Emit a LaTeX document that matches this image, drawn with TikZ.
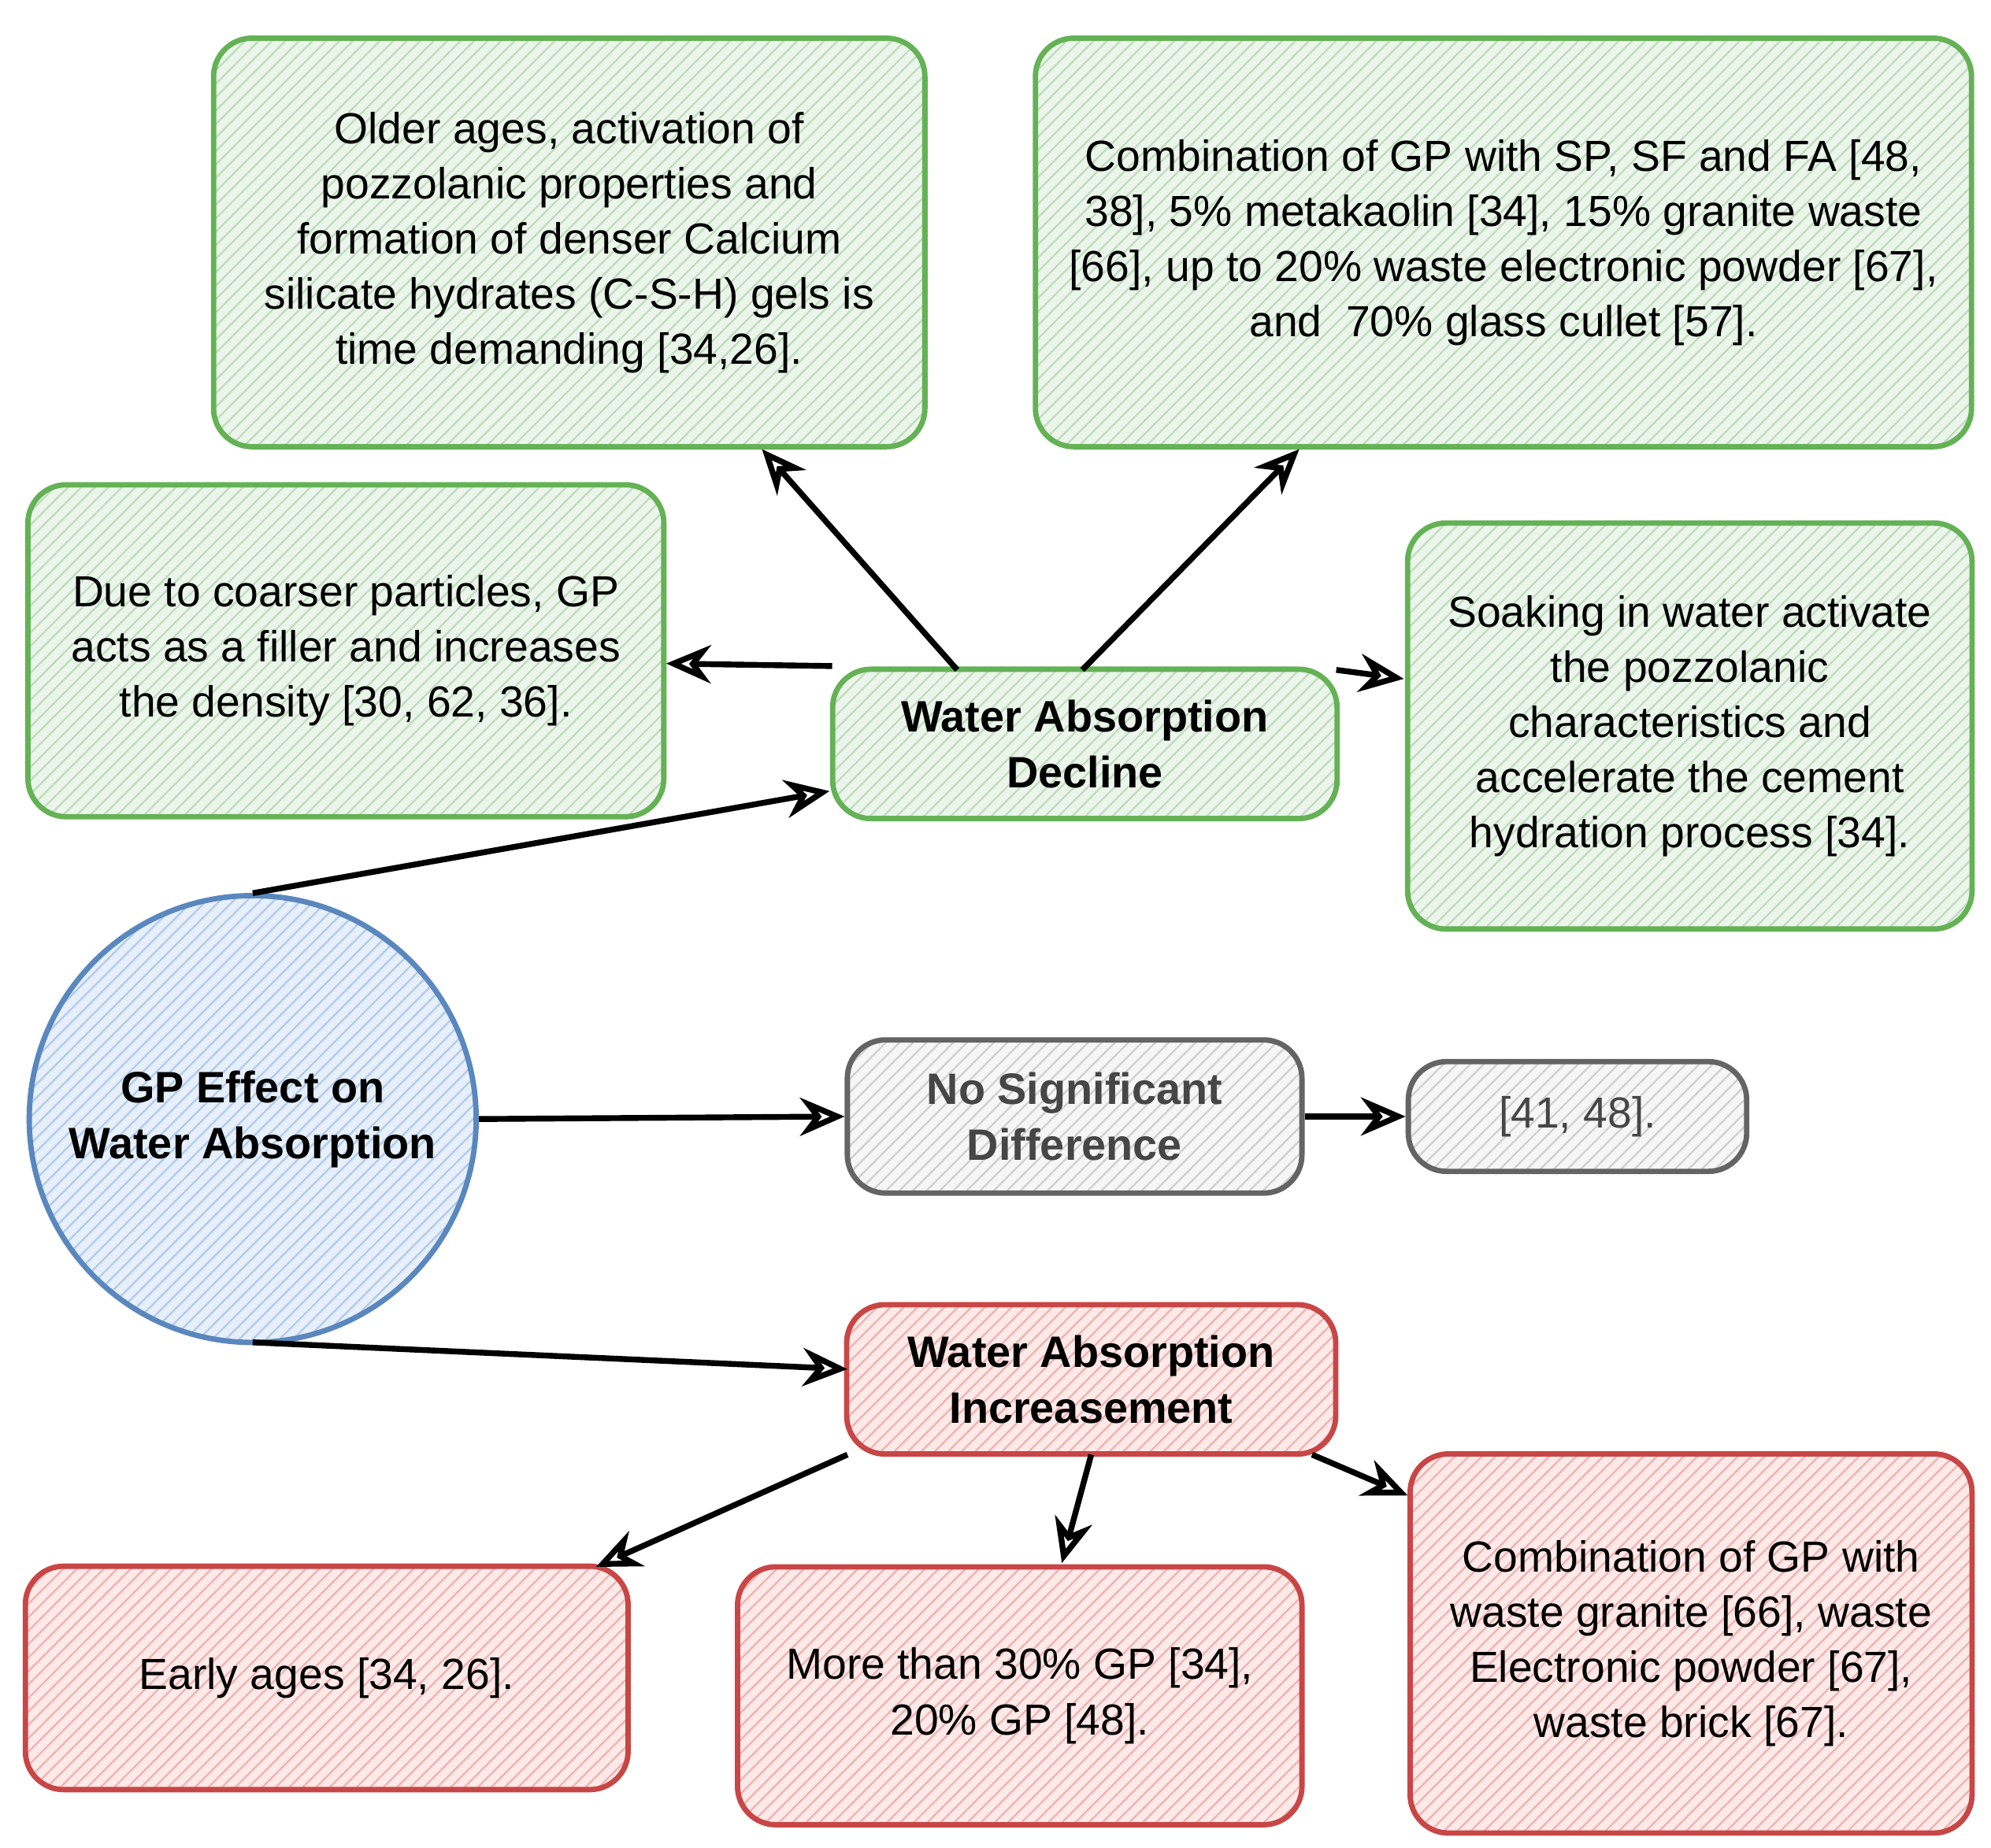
\documentclass[tikz,border=0pt]{standalone}
\usepackage{fontspec}
\setmainfont{Liberation Sans}
\usetikzlibrary{patterns,arrows.meta,shapes.geometric}
\definecolor{gs}{RGB}{100,178,85}
\definecolor{gf}{RGB}{213,232,212}
\definecolor{rs}{RGB}{200,70,70}
\definecolor{rf}{RGB}{248,206,204}
\definecolor{ks}{RGB}{100,100,100}
\definecolor{kf}{RGB}{235,235,235}
\definecolor{bs}{RGB}{90,135,190}
\definecolor{bf}{RGB}{200,220,245}
\tikzset{
 base/.style={rounded corners=0.3cm,line width=1.2pt,align=center,
   font=\fontsize{9.7}{12.3}\selectfont,inner sep=0pt},
 hd/.style={font=\bfseries\fontsize{9.8}{12.5}\selectfont},
 gbox/.style={base,draw=gs,preaction={fill=gf!45},preaction={pattern=north east lines,pattern color=gf!80!gs}},
 rbox/.style={base,draw=rs,preaction={fill=rf!45},preaction={pattern=north east lines,pattern color=rf!80!rs}},
 kbox/.style={base,draw=ks,preaction={fill=kf!45},preaction={pattern=north east lines,pattern color=kf!80!ks},text=ks!70!black},
 bcirc/.style={circle,line width=1.2pt,draw=bs,preaction={fill=bf!45},preaction={pattern=north east lines,pattern color=bf!80!bs},align=center,hd},
 arr/.style={line width=1.3pt,-{Stealth[open,length=3.5mm,width=3mm]}}
}
\begin{document}
\begin{tikzpicture}[x=0.01cm,y=-0.01cm]
\useasboundingbox (0,0) rectangle (1560,1448);
\node[gbox,minimum width=5.57cm,minimum height=3.2cm] (A) at (446,190) {Older ages, activation of\\pozzolanic properties and\\formation of denser Calcium\\silicate hydrates (C-S-H) gels is\\time demanding [34,26].};
\node[gbox,minimum width=7.33cm,minimum height=3.2cm] (B) at (1178,190) {Combination of GP with SP, SF and FA [48,\\38], 5\% metakaolin [34], 15\% granite waste\\{}[66], up to 20\% waste electronic powder [67],\\and\ \ 70\% glass cullet [57].};
\node[gbox,minimum width=4.98cm,minimum height=2.6cm] (C) at (271,510) {Due to coarser particles, GP\\acts as a filler and increases\\the density [30, 62, 36].};
\node[gbox,hd,minimum width=3.95cm,minimum height=1.17cm] (W) at (850,583) {Water Absorption\\Decline};
\node[gbox,minimum width=4.42cm,minimum height=3.18cm] (D) at (1324,569) {Soaking in water activate\\the pozzolanic\\characteristics and\\accelerate the cement\\hydration process [34].};
\node[bcirc,minimum size=3.5cm] (G) at (198,877) {GP Effect on\\Water Absorption};
\node[kbox,hd,minimum width=3.56cm,minimum height=1.2cm] (N) at (842,875) {No Significant\\Difference};
\node[kbox,minimum width=2.65cm,minimum height=0.86cm] (R) at (1236,875) {[41, 48].};
\node[rbox,hd,minimum width=3.83cm,minimum height=1.17cm] (I) at (855,1081) {Water Absorption\\Increasement};
\node[rbox,minimum width=4.72cm,minimum height=1.75cm] (E) at (256,1315) {Early ages [34, 26].};
\node[rbox,minimum width=4.42cm,minimum height=2.02cm] (M) at (799,1329) {More than 30\% GP [34],\\20\% GP [48].};
\node[rbox,minimum width=4.4cm,minimum height=2.97cm] (F) at (1325,1288) {Combination of GP with\\waste granite [66], waste\\Electronic powder [67],\\waste brick [67].};
\coordinate (w1) at (750,525); \coordinate (a1) at (597,352);
\coordinate (w2) at (848,525); \coordinate (b1) at (1018,352);
\coordinate (w3) at (652,522); \coordinate (c1) at (522,520);
\coordinate (w4) at (1047,525); \coordinate (d1) at (1100,532);
\coordinate (g1) at (198,700); \coordinate (w5) at (650,620);
\coordinate (g2) at (198,1052); \coordinate (i1) at (664,1073);
\coordinate (i2) at (664,1140); \coordinate (e1) at (467,1228);
\coordinate (i3) at (855,1140); \coordinate (m1) at (832,1225);
\coordinate (i4) at (1028,1140); \coordinate (f1) at (1103,1172);
\draw[arr] (w1) -- (a1);
\draw[arr] (w2) -- (b1);
\draw[arr] (w3) -- (c1);
\draw[arr] (w4) -- (d1);
\draw[arr] (g1) -- (w5);
\draw[arr] (G.east) -- (N.west);
\draw[arr] (N.east) -- (R.west);
\draw[arr] (g2) -- (i1);
\draw[arr] (i2) -- (e1);
\draw[arr] (i3) -- (m1);
\draw[arr] (i4) -- (f1);
\end{tikzpicture}
\end{document}
